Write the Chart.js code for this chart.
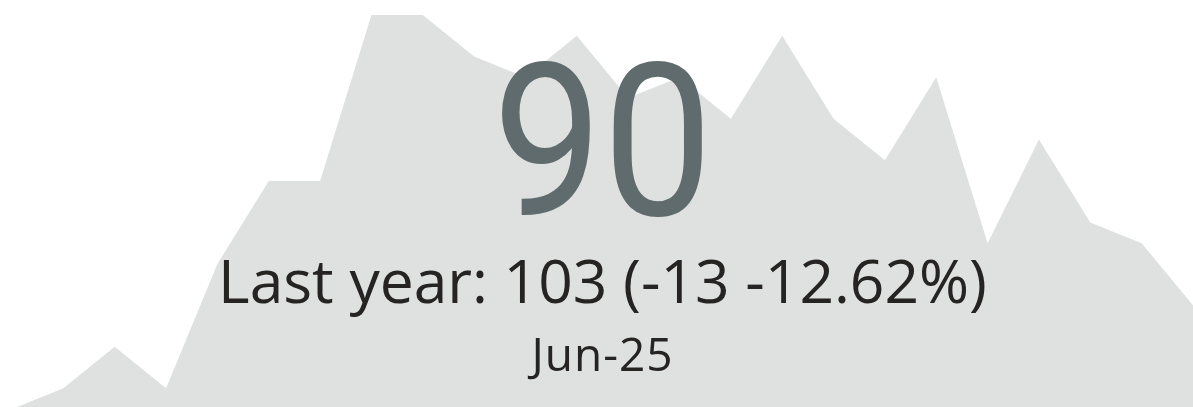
<!DOCTYPE html>
<html>
<head>
<meta charset="utf-8">
<script src="https://cdn.jsdelivr.net/npm/chart.js@4"></script>
<style>
  html, body { margin: 0; padding: 0; background: #fff; }
  #card { position: relative; width: 1193px; height: 407px; overflow: hidden; }
  #card canvas { position: absolute; left: 0; top: 0; }
  .txt { position: absolute; left: 12px; right: 0; text-align: center; white-space: nowrap; }
  #kpi_value { top: 12px; font-family: Roboto, sans-serif; font-size: 213px; line-height: 260px; color: #5f6b6d; }
  #kpi_value span { display: inline-block; transform: scaleX(0.92); }
  #kpi_goal { top: 240px; font-family: "Open Sans", sans-serif; font-size: 60.5px; line-height: 80px; color: #252423; }
  #kpi_date { top: 325px; font-family: "Open Sans", sans-serif; font-size: 46px; line-height: 56px; letter-spacing: 1px; color: #252423; }
</style>
</head>
<body>
<div id="card">
  <canvas id="trend_chart" width="1193" height="407"></canvas>
  <div class="txt" id="kpi_value"><span></span></div>
  <div class="txt" id="kpi_goal"></div>
  <div class="txt" id="kpi_date"></div>
</div>
<script>
// monthly values, Jul-23 .. Jun-25
var months = ['Jul-23', 'Aug-23', 'Sep-23', 'Oct-23', 'Nov-23', 'Dec-23',
              'Jan-24', 'Feb-24', 'Mar-24', 'Apr-24', 'May-24', 'Jun-24',
              'Jul-24', 'Aug-24', 'Sep-24', 'Oct-24', 'Nov-24', 'Dec-24',
              'Jan-25', 'Feb-25', 'Mar-25', 'Apr-25', 'May-25', 'Jun-25'];
var values = [85, 86, 88, 86, 92, 96, 96, 104, 104, 102, 101, 103,
              100, 101, 99, 103, 99, 97, 101, 93, 98, 94, 93, 90];

var current = values[values.length - 1];
var lastYear = values[values.length - 13];
var diff = current - lastYear;
var pct = (diff / lastYear * 100).toFixed(2);

document.querySelector('#kpi_value span').textContent = current;
document.getElementById('kpi_goal').textContent =
  'Last year: ' + lastYear + ' (' + diff + ' ' + pct + '%)';
document.getElementById('kpi_date').textContent = months[months.length - 1];

var ctx = document.getElementById('trend_chart').getContext('2d');
var myChart = new Chart(ctx, {
  type: 'line',
  data: {
    labels: months,
    datasets: [{
      data: values,
      fill: 'start',
      backgroundColor: '#dfe0e0',
      borderWidth: 0,
      pointRadius: 0,
      tension: 0
    }]
  },
  options: {
    responsive: false,
    animation: false,
    layout: { padding: { left: 12, top: 15, right: 0, bottom: 0 } },
    plugins: {
      legend: { display: false },
      tooltip: { enabled: false }
    },
    scales: {
      x: { display: false, offset: false },
      y: { display: false, min: 85.1, max: 104 }
    }
  }
});
</script>
</body>
</html>
